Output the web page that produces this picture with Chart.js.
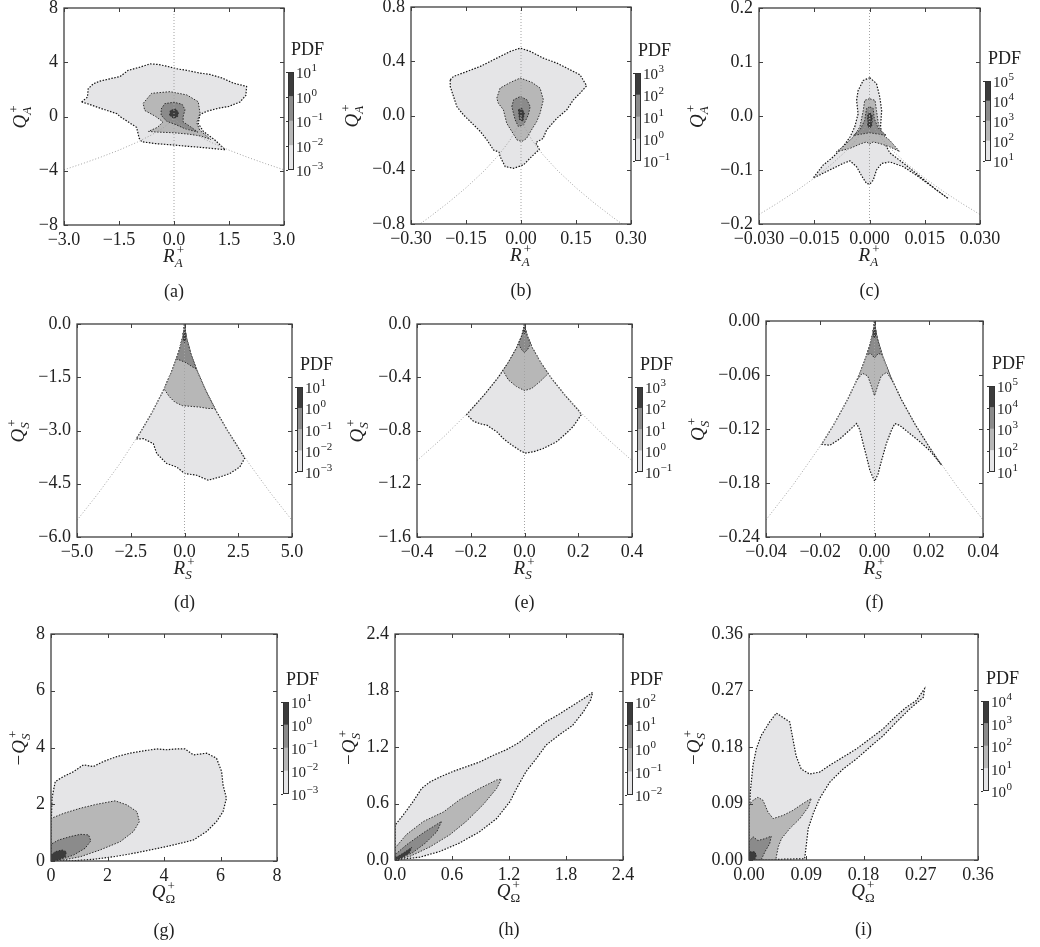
<!DOCTYPE html>
<html>
<head>
<meta charset="utf-8">
<script src="https://cdn.jsdelivr.net/npm/chart.js@4.4.1/dist/chart.umd.min.js"></script>
<style>
  body { margin: 0; background: #fff; width: 1040px; height: 947px; position: relative; overflow: hidden; }
  canvas { position: absolute; }
</style>
</head>
<body>
<script>
// ---- tick values / labels ----
const aXTicks = [-3, -1.5, 0, 1.5, 3], aXLabels = ['−3.0', '−1.5', '0.0', '1.5', '3.0'];
const aYTicks = [-8, -4, 0, 4, 8], aYLabels = ['−8', '−4', '0', '4', '8'];
const bXTicks = [-0.3, -0.15, 0, 0.15, 0.3], bXLabels = ['−0.30', '−0.15', '0.00', '0.15', '0.30'];
const bYTicks = [-0.8, -0.4, 0, 0.4, 0.8], bYLabels = ['−0.8', '−0.4', '0.0', '0.4', '0.8'];
const cXTicks = [-0.03, -0.015, 0, 0.015, 0.03], cXLabels = ['−0.030', '−0.015', '0.000', '0.015', '0.030'];
const cYTicks = [-0.2, -0.1, 0, 0.1, 0.2], cYLabels = ['−0.2', '−0.1', '0.0', '0.1', '0.2'];
const dXTicks = [-5, -2.5, 0, 2.5, 5], dXLabels = ['−5.0', '−2.5', '0.0', '2.5', '5.0'];
const dYTicks = [-6, -4.5, -3, -1.5, 0], dYLabels = ['−6.0', '−4.5', '−3.0', '−1.5', '0.0'];
const eXTicks = [-0.4, -0.2, 0, 0.2, 0.4], eXLabels = ['−0.4', '−0.2', '0.0', '0.2', '0.4'];
const eYTicks = [-1.6, -1.2, -0.8, -0.4, 0], eYLabels = ['−1.6', '−1.2', '−0.8', '−0.4', '0.0'];
const fXTicks = [-0.04, -0.02, 0, 0.02, 0.04], fXLabels = ['−0.04', '−0.02', '0.00', '0.02', '0.04'];
const fYTicks = [-0.24, -0.18, -0.12, -0.06, 0], fYLabels = ['−0.24', '−0.18', '−0.12', '−0.06', '0.00'];
const gTicks = [0, 2, 4, 6, 8], gLabels = ['0', '2', '4', '6', '8'];
const hTicks = [0, 0.6, 1.2, 1.8, 2.4], hLabels = ['0.0', '0.6', '1.2', '1.8', '2.4'];
const iTicks = [0, 0.09, 0.18, 0.27, 0.36], iLabels = ['0.00', '0.09', '0.18', '0.27', '0.36'];

// colourbar decades (exponents of 10)
const pdfExpA = [-3, -2, -1, 0, 1];
const pdfExpB = [-1, 0, 1, 2, 3];
const pdfExpC = [1, 2, 3, 4, 5];
const pdfExpH = [-2, -1, 0, 1, 2];
const pdfExpI = [0, 1, 2, 3, 4];

// ---- guide lines (dotted) ----
const aZero = [[0, -8], [0, 8]];
const bZero = [[0, -0.8], [0, 0.8]];
const cZero = [[0, -0.2], [0, 0.2]];
const dZero = [[0, -6], [0, 0]];
const eZero = [[0, -1.6], [0, 0]];
const fZero = [[0, -0.24], [0, 0]];
const aCurve = [[-3, -3.93], [-2.5, -3.48], [-2, -3.0], [-1.5, -2.48], [-1, -1.89], [-0.6, -1.34], [-0.3, -0.85], [-0.1, -0.41], [-0.02, -0.14], [0, 0],
  [0.02, -0.14], [0.1, -0.41], [0.3, -0.85], [0.6, -1.34], [1, -1.89], [1.5, -2.48], [2, -3.0], [2.5, -3.48], [3, -3.93]];
const bCurve = [[-0.3, -0.847], [-0.25, -0.75], [-0.2, -0.646], [-0.15, -0.533], [-0.1, -0.407], [-0.06, -0.289], [-0.03, -0.182], [-0.01, -0.088], [-0.002, -0.03], [0, 0],
  [0.002, -0.03], [0.01, -0.088], [0.03, -0.182], [0.06, -0.289], [0.1, -0.407], [0.15, -0.533], [0.2, -0.646], [0.25, -0.75], [0.3, -0.847]];
const cCurve = [[-0.03, -0.1824], [-0.025, -0.1616], [-0.02, -0.1393], [-0.015, -0.115], [-0.01, -0.0877], [-0.006, -0.0624], [-0.003, -0.0393], [-0.001, -0.0189], [-0.0002, -0.0065], [0, 0],
  [0.0002, -0.0065], [0.001, -0.0189], [0.003, -0.0393], [0.006, -0.0624], [0.01, -0.0877], [0.015, -0.115], [0.02, -0.1393], [0.025, -0.1616], [0.03, -0.1824]];
const dCurve = [[-5, -5.53], [-4, -4.76], [-3, -3.93], [-2, -3.0], [-1.5, -2.48], [-1, -1.89], [-0.6, -1.34], [-0.3, -0.85], [-0.1, -0.41], [-0.02, -0.14], [0, 0],
  [0.02, -0.14], [0.1, -0.41], [0.3, -0.85], [0.6, -1.34], [1, -1.89], [1.5, -2.48], [2, -3.0], [3, -3.93], [4, -4.76], [5, -5.53]];
const eCurve = [[-0.4, -1.026], [-0.3, -0.847], [-0.2, -0.646], [-0.15, -0.533], [-0.1, -0.407], [-0.06, -0.289], [-0.03, -0.182], [-0.01, -0.088], [-0.002, -0.03], [0, 0],
  [0.002, -0.03], [0.01, -0.088], [0.03, -0.182], [0.06, -0.289], [0.1, -0.407], [0.15, -0.533], [0.2, -0.646], [0.3, -0.847], [0.4, -1.026]];
const fCurve = [[-0.04, -0.221], [-0.03, -0.182], [-0.02, -0.139], [-0.015, -0.115], [-0.01, -0.0877], [-0.006, -0.0624], [-0.003, -0.0393], [-0.001, -0.0189], [-0.0002, -0.0065], [0, 0],
  [0.0002, -0.0065], [0.001, -0.0189], [0.003, -0.0393], [0.006, -0.0624], [0.01, -0.0877], [0.015, -0.115], [0.02, -0.139], [0.03, -0.182], [0.04, -0.221]];

// ---- contour outlines, outer (level 1) to inner (level 4) ----
const aL1 = [[-2.52, 1.07], [-2.36, 1.43], [-2.34, 2.05], [-2.2, 2.41], [-2.02, 2.61], [-1.75, 2.78], [-1.47, 2.95], [-1.25, 3.4], [-0.93, 3.64], [-0.65, 3.88], [-0.43, 3.84],
  [-0.2, 3.71], [0.07, 3.52], [0.35, 3.4], [0.71, 3.2], [0.98, 3.1], [1.3, 2.85], [1.62, 2.46], [1.98, 2.22], [1.96, 1.56], [1.8, 1.07], [1.5, 0.75], [1.2, 0.6],
  [0.89, 0.38], [0.71, 0.15], [0.66, -0.5], [0.8, -1.1], [1.1, -1.7], [1.4, -2.45], [0.71, -2.27], [0.3, -2.18], [-0.02, -2.1], [-0.5, -2.0], [-0.88, -1.86],
  [-0.95, -1.6], [-1.02, -0.8], [-1.47, -0.01], [-1.56, 0.21], [-2.0, 0.6], [-2.36, 0.94], [-2.52, 1.07]];
const aL2 = [[-0.84, 0.97], [-0.61, 1.71], [-0.11, 1.83], [0.35, 1.59], [0.66, 1.09], [0.71, 0.24], [0.62, -0.45], [0.7, -1.0], [1.0, -1.7], [0.75, -1.45],
  [0.4, -1.3], [0.0, -1.2], [-0.45, -1.15], [-0.7, -1.1], [-0.45, -0.8], [-0.3, -0.4], [-0.5, 0.0], [-0.8, 0.45], [-0.84, 0.97]];
const aL3 = [[-0.35, 0.55], [-0.25, 0.95], [0.0, 1.05], [0.22, 0.9], [0.3, 0.5], [0.25, 0.0], [0.25, -0.4], [0.45, -0.75], [0.65, -1.15], [0.3, -0.9],
  [0.05, -0.6], [-0.2, -0.35], [-0.35, 0.1], [-0.35, 0.55]];
const aL4 = [[-0.12, 0.1], [-0.1, 0.45], [0.05, 0.55], [0.12, 0.3], [0.1, 0.0], [0.0, -0.15], [-0.12, 0.1]];

const bL1 = [[-0.193, 0.263], [-0.184, 0.288], [-0.147, 0.325], [-0.111, 0.362], [-0.066, 0.423], [-0.029, 0.473], [-0.002, 0.497], [0.025, 0.473], [0.061, 0.423],
  [0.098, 0.386], [0.134, 0.337], [0.161, 0.3], [0.179, 0.219], [0.161, 0.165], [0.143, 0.116], [0.125, 0.042], [0.098, -0.02], [0.07, -0.106], [0.06, -0.17],
  [0.04, -0.2], [0.05, -0.25], [0.029, -0.303], [0.007, -0.364], [-0.02, -0.389], [-0.043, -0.377], [-0.057, -0.303], [-0.06, -0.27], [-0.075, -0.254],
  [-0.093, -0.18], [-0.111, -0.118], [-0.129, -0.069], [-0.157, 0.005], [-0.175, 0.066], [-0.184, 0.14], [-0.193, 0.214], [-0.193, 0.263]];
const bL2 = [[-0.066, 0.128], [-0.057, 0.202], [-0.029, 0.244], [-0.002, 0.276], [0.03, 0.244], [0.052, 0.202], [0.061, 0.116], [0.052, 0.017], [0.043, -0.044],
  [0.03, -0.1], [0.015, -0.17], [0.002, -0.192], [-0.011, -0.18], [-0.025, -0.118], [-0.039, -0.057], [-0.048, 0.042], [-0.062, 0.091], [-0.066, 0.128]];
const bL3 = [[-0.025, 0.066], [-0.02, 0.116], [-0.002, 0.14], [0.016, 0.116], [0.025, 0.066], [0.02, 0.005], [0.007, -0.069], [-0.007, -0.081], [-0.016, -0.032], [-0.025, 0.066]];
const bL4 = [[-0.007, 0.042], [0.002, 0.054], [0.009, 0.017], [0.005, -0.044], [-0.004, -0.032], [-0.007, 0.042]];

const cL1 = [[0.0001, 0.0708], [-0.0017, 0.066], [-0.0031, 0.047], [-0.0035, 0.029], [-0.0031, 0.004], [-0.004, -0.02], [-0.0053, -0.039], [-0.0072, -0.057],
  [-0.0099, -0.076], [-0.0126, -0.091], [-0.0153, -0.115], [-0.0108, -0.1], [-0.0072, -0.088], [-0.0053, -0.083], [-0.0035, -0.094], [-0.0022, -0.11],
  [-0.0008, -0.125], [0.0001, -0.126], [0.001, -0.119], [0.0019, -0.1], [0.0033, -0.088], [0.0055, -0.085], [0.0092, -0.094], [0.0128, -0.11], [0.0164, -0.128],
  [0.02, -0.146], [0.0214, -0.153], [0.0182, -0.137], [0.0137, -0.112], [0.0101, -0.092], [0.0055, -0.068], [0.0037, -0.045], [0.003, -0.02], [0.0033, 0.01],
  [0.0028, 0.035], [0.0019, 0.06], [0.0001, 0.0708]];
const cL2 = [[0, 0.032], [-0.0013, 0.029], [-0.0017, 0.01], [-0.0026, -0.02], [-0.0044, -0.039], [-0.0072, -0.057], [-0.009, -0.066], [-0.0053, -0.06],
  [-0.0026, -0.052], [-0.0008, -0.048], [0, -0.052], [0.001, -0.048], [0.0028, -0.051], [0.0055, -0.057], [0.0082, -0.066], [0.0055, -0.045], [0.0033, -0.033],
  [0.0024, -0.014], [0.0019, 0.01], [0.0015, 0.029], [0, 0.032]];
const cL3 = [[0, 0.017], [-0.0008, 0.014], [-0.0013, -0.008], [-0.0026, -0.026], [-0.0044, -0.036], [-0.0017, -0.033], [0, -0.031], [0.0019, -0.033],
  [0.0046, -0.036], [0.0024, -0.023], [0.0013, -0.005], [0.001, 0.014], [0, 0.017]];
const cL4 = [[0, 0.007], [-0.0005, 0.001], [-0.0005, -0.017], [0, -0.023], [0.0007, -0.017], [0.0007, 0.001], [0, 0.007]];

const dL1 = [[0, 0], [-0.02, -0.14], [-0.1, -0.41], [-0.3, -0.85], [-0.6, -1.34], [-1, -1.89], [-1.5, -2.48], [-2, -3.0], [-2.25, -3.24], [-1.91, -3.23],
  [-1.45, -3.37], [-1.29, -3.65], [-0.83, -3.93], [-0.36, -4.03], [0, -4.21], [0.56, -4.26], [1.1, -4.4], [1.65, -4.31], [2.11, -4.21], [2.57, -4.03],
  [2.8, -3.78], [2.5, -3.48], [2, -3.0], [1.5, -2.48], [1, -1.89], [0.6, -1.34], [0.3, -0.85], [0.1, -0.41], [0.02, -0.14], [0, 0]];
const dL2 = [[0, 0], [-0.02, -0.14], [-0.1, -0.41], [-0.3, -0.85], [-0.6, -1.34], [-0.95, -1.83], [-0.7, -2.05], [-0.45, -2.2], [-0.1, -2.3], [0.3, -2.32],
  [0.7, -2.34], [1.1, -2.38], [1.41, -2.38], [1, -1.89], [0.6, -1.34], [0.3, -0.85], [0.1, -0.41], [0.02, -0.14], [0, 0]];
const dL3 = [[0, 0], [-0.02, -0.14], [-0.1, -0.41], [-0.25, -0.75], [-0.38, -0.99], [-0.2, -1.02], [0.1, -1.1], [0.35, -1.2], [0.55, -1.27], [0.3, -0.85],
  [0.1, -0.41], [0.02, -0.14], [0, 0]];
const dL4 = [[0, 0], [-0.02, -0.14], [-0.06, -0.29], [-0.04, -0.45], [0, -0.52], [0.04, -0.45], [0.06, -0.29], [0.02, -0.14], [0, 0]];

const eL1 = [[0, 0], [-0.002, -0.03], [-0.01, -0.088], [-0.03, -0.182], [-0.06, -0.289], [-0.1, -0.407], [-0.15, -0.533], [-0.2, -0.646], [-0.215, -0.68],
  [-0.19, -0.73], [-0.165, -0.75], [-0.14, -0.76], [-0.103, -0.81], [-0.079, -0.86], [-0.054, -0.9], [-0.017, -0.95], [0.002, -0.97], [0.033, -0.96],
  [0.07, -0.935], [0.119, -0.885], [0.156, -0.82], [0.181, -0.77], [0.212, -0.68], [0.2, -0.646], [0.15, -0.533], [0.1, -0.407], [0.06, -0.289], [0.03, -0.182],
  [0.01, -0.088], [0.002, -0.03], [0, 0]];
const eL2 = [[0, 0], [-0.002, -0.03], [-0.01, -0.088], [-0.03, -0.182], [-0.06, -0.289], [-0.08, -0.35], [-0.06, -0.42], [-0.03, -0.47], [0, -0.5],
  [0.027, -0.484], [0.057, -0.434], [0.088, -0.373], [0.06, -0.289], [0.03, -0.182], [0.01, -0.088], [0.002, -0.03], [0, 0]];
const eL3 = [[0, 0], [-0.002, -0.03], [-0.01, -0.088], [-0.022, -0.148], [-0.012, -0.19], [0, -0.215], [0.012, -0.19], [0.022, -0.148], [0.01, -0.088],
  [0.002, -0.03], [0, 0]];
const eL4 = [[0, 0], [-0.002, -0.03], [-0.005, -0.055], [0, -0.075], [0.005, -0.055], [0.002, -0.03], [0, 0]];

const fL1 = [[0, 0], [-0.0002, -0.0065], [-0.001, -0.0189], [-0.003, -0.0393], [-0.006, -0.0624], [-0.01, -0.0877], [-0.015, -0.115], [-0.0195, -0.137],
  [-0.0164, -0.138], [-0.0128, -0.131], [-0.0091, -0.121], [-0.0066, -0.114], [-0.0054, -0.121], [-0.0042, -0.136], [-0.0029, -0.151], [-0.0017, -0.166],
  [-0.0007, -0.173], [0.0001, -0.178], [0.0013, -0.17], [0.0026, -0.155], [0.0044, -0.136], [0.0063, -0.121], [0.0075, -0.114], [0.0093, -0.116],
  [0.013, -0.125], [0.0167, -0.134], [0.0204, -0.144], [0.0247, -0.16], [0.02, -0.139], [0.015, -0.115], [0.01, -0.0877], [0.006, -0.0624], [0.003, -0.0393],
  [0.001, -0.0189], [0.0002, -0.0065], [0, 0]];
const fL2 = [[0, 0], [-0.0002, -0.0065], [-0.001, -0.0189], [-0.003, -0.0393], [-0.0065, -0.066], [-0.0045, -0.058], [-0.0025, -0.061], [-0.0012, -0.072],
  [0, -0.083], [0.0012, -0.072], [0.0025, -0.061], [0.0045, -0.057], [0.0065, -0.066], [0.003, -0.0393], [0.001, -0.0189], [0.0002, -0.0065], [0, 0]];
const fL3 = [[0, 0], [-0.0002, -0.0065], [-0.001, -0.0189], [-0.002, -0.03], [-0.0028, -0.0375], [-0.0014, -0.036], [0, -0.041], [0.0014, -0.036],
  [0.0028, -0.0375], [0.002, -0.03], [0.001, -0.0189], [0.0002, -0.0065], [0, 0]];
const fL4 = [[0, 0], [-0.0002, -0.0065], [-0.0006, -0.0134], [0, -0.02], [0.0006, -0.0134], [0.0002, -0.0065], [0, 0]];

const gL1 = [[0, 0], [0, 1.04], [0.035, 2.21], [0.15, 2.8], [0.45, 2.98], [0.8, 3.15], [1.15, 3.39], [1.5, 3.33], [1.86, 3.51], [2.33, 3.68], [2.8, 3.8],
  [3.27, 3.88], [3.74, 3.95], [4.09, 3.92], [4.45, 3.95], [4.74, 3.95], [5.04, 3.74], [5.51, 3.8], [5.86, 3.62], [6.04, 3.15], [6.09, 2.68], [6.21, 2.21],
  [6.09, 1.74], [5.86, 1.39], [5.51, 1.04], [5.04, 0.74], [4.56, 0.62], [4.09, 0.51], [3.51, 0.39], [2.92, 0.27], [2.21, 0.15], [1.5, 0.06], [0.8, 0.01], [0, 0]];
const gL2 = [[0, 0], [0, 1.5], [0.45, 1.68], [1.04, 1.86], [1.62, 2.0], [2.27, 2.12], [2.68, 1.98], [3.04, 1.74], [3.13, 1.39], [2.92, 1.04], [2.45, 0.68],
  [1.74, 0.39], [1.04, 0.15], [0.45, 0.04], [0, 0]];
const gL3 = [[0, 0], [0, 0.59], [0.27, 0.74], [0.68, 0.86], [1.04, 0.94], [1.33, 0.92], [1.41, 0.71], [1.21, 0.45], [0.8, 0.21], [0.39, 0.07], [0, 0]];
const gL4 = [[0, 0], [0, 0.21], [0.15, 0.33], [0.39, 0.39], [0.54, 0.33], [0.51, 0.15], [0.27, 0.04], [0, 0]];

const hL1 = [[0, 0], [0, 0.37], [0.088, 0.48], [0.19, 0.62], [0.28, 0.76], [0.37, 0.83], [0.47, 0.88], [0.61, 0.94], [0.75, 0.99], [0.89, 1.04], [1.03, 1.11],
  [1.17, 1.17], [1.31, 1.25], [1.45, 1.36], [1.59, 1.47], [1.73, 1.55], [1.87, 1.64], [2.01, 1.73], [2.08, 1.78], [2.06, 1.7], [1.98, 1.57], [1.87, 1.43],
  [1.73, 1.33], [1.59, 1.22], [1.49, 1.08], [1.38, 0.94], [1.28, 0.76], [1.21, 0.62], [1.07, 0.44], [0.89, 0.3], [0.68, 0.18], [0.47, 0.09], [0.26, 0.03], [0, 0]];
const hL2 = [[0, 0], [0, 0.127], [0.12, 0.27], [0.3, 0.41], [0.51, 0.51], [0.68, 0.64], [0.89, 0.76], [1.07, 0.85], [1.12, 0.86], [1.07, 0.76], [0.93, 0.59],
  [0.75, 0.41], [0.58, 0.27], [0.37, 0.14], [0.16, 0.04], [0, 0]];
const hL3 = [[0, 0], [0, 0.056], [0.12, 0.16], [0.3, 0.29], [0.49, 0.41], [0.44, 0.3], [0.32, 0.18], [0.18, 0.074], [0, 0]];
const hL4 = [[0, 0], [0, 0.02], [0.088, 0.074], [0.175, 0.134], [0.15, 0.074], [0.07, 0.02], [0, 0]];

const iL1 = [[0, 0], [0, 0.055], [0.002, 0.108], [0.0063, 0.151], [0.0115, 0.177], [0.019, 0.198], [0.0325, 0.22], [0.043, 0.234], [0.0535, 0.227], [0.064, 0.22],
  [0.069, 0.193], [0.074, 0.166], [0.082, 0.145], [0.095, 0.137], [0.111, 0.14], [0.127, 0.151], [0.148, 0.164], [0.169, 0.177], [0.19, 0.193], [0.211, 0.209],
  [0.232, 0.23], [0.247, 0.243], [0.263, 0.254], [0.276, 0.273], [0.274, 0.259], [0.253, 0.241], [0.232, 0.22], [0.211, 0.198], [0.19, 0.18], [0.169, 0.161],
  [0.148, 0.145], [0.127, 0.124], [0.111, 0.098], [0.101, 0.074], [0.093, 0.05], [0.09, 0.023], [0.0875, 0.002], [0, 0]];
const iL2 = [[0, 0], [0, 0.087], [0.0063, 0.095], [0.014, 0.1], [0.022, 0.095], [0.03, 0.076], [0.038, 0.066], [0.0535, 0.071], [0.069, 0.079], [0.085, 0.09],
  [0.098, 0.098], [0.093, 0.084], [0.08, 0.066], [0.064, 0.05], [0.051, 0.034], [0.046, 0.021], [0.042, 0], [0, 0]];
const iL3 = [[0, 0], [0, 0.029], [0.0063, 0.037], [0.014, 0.031], [0.025, 0.034], [0.035, 0.038], [0.0325, 0.026], [0.025, 0.013], [0.019, 0], [0, 0]];
const iL4 = [[0, 0], [0, 0.013], [0.009, 0.013], [0.0115, 0.0074], [0.009, 0], [0, 0]];

// ---- layout / style ----
const FILLS = ['#e5e5e7', '#b7b7b7', '#8b8b8b', '#3c3c3c'];
const EDGES = ['#151515', '#2e2e2e', '#2e2e2e', '#2e2e2e'];
const SERIF = '"Liberation Serif", "Times New Roman", serif';
const INK = '#222';
Chart.defaults.font.family = SERIF;

const panels = [
  { cap: '(a)', box: [64, 8, 220, 217], bar: [288, 72, 6, 98], xt: aXTicks, xl: aXLabels, yt: aYTicks, yl: aYLabels,
    levels: [aL1, aL2, aL3, aL4], guides: [aZero, aCurve], exps: pdfExpA, xTitle: ['', 'R', 'A', '+'], yTitle: ['', 'Q', 'A', '+'], yOff: -44, capOff: 67 },
  { cap: '(b)', box: [411, 7, 220, 217], bar: [635, 73, 6, 88], xt: bXTicks, xl: bXLabels, yt: bYTicks, yl: bYLabels,
    levels: [bL1, bL2, bL3, bL4], guides: [bZero, bCurve], exps: pdfExpB, xTitle: ['', 'R', 'A', '+'], yTitle: ['', 'Q', 'A', '+'], yOff: -59, capOff: 67 },
  { cap: '(c)', box: [759, 8, 221, 216], bar: [985, 81, 6, 80], xt: cXTicks, xl: cXLabels, yt: cYTicks, yl: cYLabels,
    levels: [cL1, cL2, cL3, cL4], guides: [cZero, cCurve], exps: pdfExpC, xTitle: ['', 'R', 'A', '+'], yTitle: ['', 'Q', 'A', '+'], yOff: -62, capOff: 67 },
  { cap: '(d)', box: [77, 324, 215, 213], bar: [297, 387, 6, 85], xt: dXTicks, xl: dXLabels, yt: dYTicks, yl: dYLabels,
    levels: [dL1, dL2, dL3, dL4], guides: [dZero, dCurve], exps: pdfExpA, xTitle: ['', 'R', 'S', '+'], yTitle: ['', 'Q', 'S', '+'], yOff: -59, capOff: 66 },
  { cap: '(e)', box: [417, 324, 215, 213], bar: [637, 387, 6, 85], xt: eXTicks, xl: eXLabels, yt: eYTicks, yl: eYLabels,
    levels: [eL1, eL2, eL3, eL4], guides: [eZero, eCurve], exps: pdfExpB, xTitle: ['', 'R', 'S', '+'], yTitle: ['', 'Q', 'S', '+'], yOff: -60, capOff: 66 },
  { cap: '(f)', box: [766, 321, 217, 216], bar: [989, 386, 6, 86], xt: fXTicks, xl: fXLabels, yt: fYTicks, yl: fYLabels,
    levels: [fL1, fL2, fL3, fL4], guides: [fZero, fCurve], exps: pdfExpC, xTitle: ['', 'R', 'S', '+'], yTitle: ['', 'Q', 'S', '+'], yOff: -68, capOff: 66 },
  { cap: '(g)', box: [51, 634, 226, 227], bar: [283, 702, 6, 92], xt: gTicks, xl: gLabels, yt: gTicks, yl: gLabels,
    levels: [gL1, gL2, gL3, gL4], guides: [], exps: pdfExpA, xTitle: ['', 'Q', 'Ω', '+'], yTitle: ['−', 'Q', 'S', '+'], yOff: -32, capOff: 70 },
  { cap: '(h)', box: [395, 634, 228, 226], bar: [627, 702, 6, 93], xt: hTicks, xl: hLabels, yt: hTicks, yl: hLabels,
    levels: [hL1, hL2, hL3, hL4], guides: [], exps: pdfExpH, xTitle: ['', 'Q', 'Ω', '+'], yTitle: ['−', 'Q', 'S', '+'], yOff: -46, capOff: 70 },
  { cap: '(i)', box: [749, 634, 229, 226], bar: [983, 701, 6, 90], xt: iTicks, xl: iLabels, yt: iTicks, yl: iLabels,
    levels: [iL1, iL2, iL3, iL4], guides: [], exps: pdfExpI, xTitle: ['', 'Q', 'Ω', '+'], yTitle: ['−', 'Q', 'S', '+'], yOff: -55, capOff: 70 }
];

function toPoints(arr) { return arr.map(p => ({ x: p[0], y: p[1] })); }

function makeCanvas(left, top, w, h) {
  const cv = document.createElement('canvas');
  cv.width = w; cv.height = h;
  cv.style.left = left + 'px'; cv.style.top = top + 'px';
  cv.style.width = w + 'px'; cv.style.height = h + 'px';
  document.body.appendChild(cv);
  return cv;
}

// italic symbol with stacked sub/superscript, centred on x
function richText(ctx, parts, x, y) {
  const [pre, main, sub, sup] = parts;
  const subFont = (sub === 'Ω' ? '' : 'italic ') + '13px ' + SERIF;
  ctx.font = '19px ' + SERIF;
  const wPre = pre ? ctx.measureText(pre).width + 1 : 0;
  ctx.font = 'italic 19px ' + SERIF;
  const wMain = ctx.measureText(main).width;
  ctx.font = subFont;
  const wSub = ctx.measureText(sub).width;
  ctx.font = '13px ' + SERIF;
  const wSup = ctx.measureText(sup).width + 2;
  let x0 = x - (wPre + wMain + 1 + Math.max(wSub, wSup)) / 2;
  ctx.fillStyle = INK; ctx.textAlign = 'left'; ctx.textBaseline = 'alphabetic';
  if (pre) { ctx.font = '19px ' + SERIF; ctx.fillText(pre, x0, y); x0 += wPre; }
  ctx.font = 'italic 19px ' + SERIF; ctx.fillText(main, x0, y); x0 += wMain + 1;
  ctx.font = subFont; ctx.fillText(sub, x0 - 1, y + 5);
  ctx.font = '13px ' + SERIF; ctx.fillText(sup, x0 + 1, y - 8);
}

function framePlugin(p) {
  return {
    id: 'frame',
    afterDatasetsDraw(chart) {
      const { ctx, chartArea: a, scales: { x, y } } = chart;
      ctx.save();
      ctx.strokeStyle = '#3f3f3f';
      ctx.lineWidth = 1.3;
      ctx.strokeRect(a.left, a.top, a.right - a.left, a.bottom - a.top);
      ctx.lineWidth = 1;
      ctx.beginPath();
      x.ticks.forEach(t => {
        const px = Math.round(x.getPixelForValue(t.value)) + 0.5;
        ctx.moveTo(px, a.bottom); ctx.lineTo(px, a.bottom - 4);
        ctx.moveTo(px, a.top); ctx.lineTo(px, a.top + 4);
      });
      y.ticks.forEach(t => {
        const py = Math.round(y.getPixelForValue(t.value)) + 0.5;
        ctx.moveTo(a.left, py); ctx.lineTo(a.left + 4, py);
        ctx.moveTo(a.right, py); ctx.lineTo(a.right - 4, py);
      });
      ctx.stroke();
      richText(ctx, p.xTitle, (a.left + a.right) / 2, a.bottom + 37);
      ctx.translate(a.left + p.yOff + 6, (a.top + a.bottom) / 2);
      ctx.rotate(-Math.PI / 2);
      richText(ctx, p.yTitle, 0, 0);
      ctx.restore();
      ctx.save();
      ctx.fillStyle = INK;
      ctx.font = '18px ' + SERIF;
      ctx.textAlign = 'center';
      ctx.textBaseline = 'middle';
      ctx.fillText(p.cap, (a.left + a.right) / 2, a.bottom + p.capOff);
      ctx.restore();
    }
  };
}

function colorbarPlugin(exps) {
  return {
    id: 'cbarLabels',
    afterDatasetsDraw(chart) {
      const { ctx, chartArea: a, scales: { y } } = chart;
      ctx.save();
      ctx.strokeStyle = '#333';
      ctx.lineWidth = 1;
      ctx.strokeRect(a.left + 0.5, a.top + 0.5, a.right - a.left - 1, a.bottom - a.top - 1);
      ctx.fillStyle = INK;
      ctx.font = '18px ' + SERIF;
      ctx.textAlign = 'left';
      ctx.textBaseline = 'alphabetic';
      ctx.fillText('PDF', a.left + 3, a.top - 17);
      exps.forEach(e => {
        const py = Math.round(y.getPixelForValue(e)) + 0.5;
        ctx.beginPath();
        ctx.moveTo(a.left - 2, py); ctx.lineTo(a.left, py);
        ctx.stroke();
        ctx.font = '15px ' + SERIF;
        ctx.textBaseline = 'middle';
        ctx.fillText('10', a.right + 2, py + 2);
        const w = ctx.measureText('10').width;
        ctx.font = '11px ' + SERIF;
        ctx.fillText(e < 0 ? '−' + (-e) : String(e), a.right + 2.5 + w, py - 4);
      });
      ctx.restore();
    }
  };
}

function fixedScale(ticks, labels, size, horizontal) {
  return {
    type: 'linear',
    min: ticks[0],
    max: ticks[ticks.length - 1],
    afterBuildTicks: s => { s.ticks = ticks.map(v => ({ value: v })); },
    afterFit: s => {
      if (horizontal) s.height = size; else s.width = size;
      s.paddingLeft = 0; s.paddingRight = 0; s.paddingTop = 0; s.paddingBottom = 0;
    },
    grid: { display: false, drawTicks: false },
    border: { display: false },
    ticks: {
      autoSkip: false, maxRotation: 0, minRotation: 0,
      padding: horizontal ? 4 : 6,
      color: INK,
      font: { family: SERIF, size: 18 },
      callback: (v, i) => labels[i]
    }
  };
}

panels.forEach(p => {
  const [l, t, w, h] = p.box;
  const cv = makeCanvas(l - 80, t - 12, w + 110, h + 97);
  const datasets = p.levels.map((lv, i) => ({
    data: toPoints(lv),
    showLine: true,
    fill: 'shape',
    backgroundColor: FILLS[i],
    borderColor: EDGES[i],
    borderWidth: i === 0 ? 1.2 : 1,
    borderDash: [1.5, 1.5],
    pointRadius: 0,
    tension: 0,
    order: 4 - i
  }));
  p.guides.forEach(g => datasets.push({
    data: toPoints(g),
    showLine: true,
    fill: false,
    borderColor: '#a2a2a2',
    borderWidth: 1,
    borderDash: [1, 2],
    pointRadius: 0,
    tension: 0,
    order: -1
  }));
  new Chart(cv, {
    type: 'scatter',
    data: { datasets },
    options: {
      responsive: false,
      animation: false,
      devicePixelRatio: 1,
      layout: { padding: { left: 0, top: 12, right: 30, bottom: 0 } },
      scales: {
        x: fixedScale(p.xt, p.xl, 85, true),
        y: fixedScale(p.yt, p.yl, 80, false)
      },
      plugins: { legend: { display: false }, tooltip: { enabled: false } }
    },
    plugins: [framePlugin(p)]
  });
});

// colour bars as floating bars, one band per decade
panels.forEach(p => {
  const [bx, by, bw, bh] = p.bar;
  const cv = makeCanvas(bx - 6, by - 40, bw + 56, bh + 60);
  const bands = FILLS.map((c, i) => ({
    data: [[p.exps[i], p.exps[i + 1]]],
    backgroundColor: c,
    borderWidth: 0,
    borderSkipped: false,
    barPercentage: 1,
    categoryPercentage: 1,
    grouped: false
  }));
  new Chart(cv, {
    type: 'bar',
    data: { labels: ['PDF'], datasets: bands },
    options: {
      responsive: false,
      animation: false,
      devicePixelRatio: 1,
      layout: { padding: { left: 6, top: 40, right: 50, bottom: 20 } },
      scales: {
        x: { display: false },
        y: { display: false, min: p.exps[0], max: p.exps[p.exps.length - 1] }
      },
      plugins: { legend: { display: false }, tooltip: { enabled: false } }
    },
    plugins: [colorbarPlugin(p.exps)]
  });
});
</script>
</body>
</html>
